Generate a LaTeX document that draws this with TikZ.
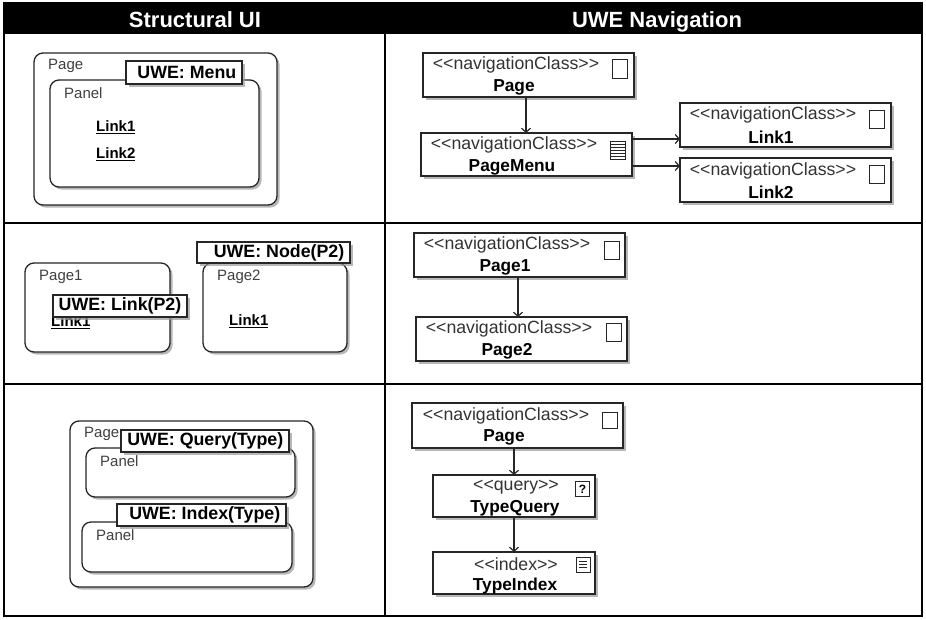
\documentclass[tikz,border=0pt]{standalone}
\usepackage{fontspec}
\setmainfont{Liberation Sans}
\usetikzlibrary{arrows.meta,shadows}
\definecolor{ink}{gray}{0.15}
\newcommand{\nc}{{<}{<}navigationClass{>}{>}}
\tikzset{
  x=1pt,y=-1pt,
  frameline/.style={line width=2.4pt,black},
  rbox/.style={draw=ink,line width=1.3pt,fill=white,rounded corners=9pt,drop shadow={shadow xshift=2.5pt,shadow yshift=-2.5pt,fill=black!40,opacity=.7},inner sep=0pt,outer sep=0pt,anchor=north west},
  tag/.style={draw=ink,line width=1.3pt,fill=white,drop shadow={shadow xshift=2.5pt,shadow yshift=-2.5pt,fill=black!40,opacity=.7},inner sep=0pt,outer sep=0pt,anchor=north west},
  cls/.style={draw=ink,line width=1.3pt,fill=white,drop shadow={shadow xshift=2.5pt,shadow yshift=-2.5pt,fill=black!40,opacity=.7},inner sep=0pt,outer sep=0pt,anchor=north west},
  lab/.style={font=\fontsize{15}{15}\selectfont,text=black!75,inner sep=0pt,anchor=west},
  stereo/.style={font=\fontsize{17.7}{17.7}\selectfont,text=black!80,inner sep=0pt},
  cname/.style={font=\fontsize{17.3}{17.3}\selectfont\bfseries,inner sep=0pt},
  ulink/.style={font=\fontsize{15}{15}\selectfont\bfseries,inner sep=0pt,anchor=west},
  ico/.style={draw=ink,line width=1.2pt,fill=white,inner sep=0pt,anchor=north west},
  conn/.style={draw=ink,line width=1.2pt,-{Straight Barb[length=4pt,width=9pt]}},
  hd/.style={font=\fontsize{22}{22}\selectfont\bfseries,text=white,inner sep=0pt,anchor=base}
}
\newcommand{\rb}[5]{\node[rbox,minimum width=#4-#2,minimum height=#5-#3] (#1) at (#2,#3) {};}
\newcommand{\tg}[6]{\node[tag,minimum width=#4-#2,minimum height=#5-#3] (#1) at (#2,#3) {};\node[font=\fontsize{17.8}{17.8}\selectfont\bfseries,inner sep=0pt,anchor=east] (#1t) at (#4-5.5,{(#3+#5)/2}) {#6};}
\newcommand{\cl}[5]{\node[cls,minimum width=#4-#2,minimum height=#5-#3] (#1) at (#2,#3) {};}
\begin{document}
\begin{tikzpicture}
\useasboundingbox (0,0) rectangle (926,619);
\fill[white] (0,0) rectangle (926,619);
% frame
\fill[black] (4,3) rectangle (922,34);
\coordinate (fa) at (4,3); \coordinate (fb) at (922,616);
\draw[frameline] (fa) rectangle (fb);
\draw[frameline] (4,223) -- (922,223);
\draw[frameline] (4,384) -- (922,384);
\draw[frameline] (385,32) -- (385,616);
\node[hd] (h1) at (195,27) {Structural UI};
\node[hd] (h2) at (657,27) {UWE Navigation};

% row 1 left
\rb{p1}{34}{53}{277}{205}
\node[lab] (p1l) at (48,66) {Page};
\rb{p1p}{50}{80}{259}{187}
\node[lab] (p1pl) at (64,93) {Panel};
\node[ulink] (l1) at (96,127) {\underline{Link1}};
\node[ulink] (l2) at (96,154) {\underline{Link2}};
\tg{t1}{126}{61}{242}{84}{UWE: Menu}

% row 2 left
\rb{p21}{25}{263}{170}{352}
\node[lab] (p21l) at (39,277) {Page1};
\node[ulink] (l3) at (51,322) {\underline{Link1}};
\tg{t2}{53}{295}{187}{317}{UWE: Link(P2)}
\rb{p22}{203}{263}{347}{352}
\node[lab] (p22l) at (217,277) {Page2};
\node[ulink] (l4) at (229,321) {\underline{Link1}};
\tg{t3}{197}{242}{350}{263}{UWE: Node(P2)}

% row 3 left
\rb{p3}{70}{421}{313}{587}
\node[lab] (p3l) at (84,434) {Page};
\rb{p3a}{86}{448}{295}{497}
\node[lab] (p3al) at (100,461) {Panel};
\rb{p3b}{82}{522}{292}{572}
\node[lab] (p3bl) at (96,535) {Panel};
\tg{t4}{121}{430}{289}{452}{UWE: Query(Type)}
\tg{t5}{117}{504}{286}{526}{UWE: Index(Type)}

% row 1 right
\cl{c1}{423}{53}{634}{97}
\node[stereo] (c1s) at (516,65) {\nc};
\node[cname] (c1n) at (514,87) {Page};
\node[ico,minimum width=15pt,minimum height=19pt] (c1i) at (612,59) {};
\cl{c2}{421}{133}{632}{176}
\node[stereo] (c2s) at (514,145) {\nc};
\node[cname] (c2n) at (512,167) {PageMenu};
\node[ico,minimum width=15pt,minimum height=18pt] (c2i) at (610,141) {};
\foreach \yy in {144,147,150,153,156} \draw[ink,line width=.8pt] (610,\yy) -- (625,\yy);
\cl{c3}{680}{103}{891}{147}
\node[stereo] (c3s) at (773,115) {\nc};
\node[cname] (c3n) at (771,137) {Link1};
\node[ico,minimum width=15pt,minimum height=18pt] (c3i) at (869,110) {};
\cl{c4}{680}{158}{891}{202}
\node[stereo] (c4s) at (773,171) {\nc};
\node[cname] (c4n) at (771,192) {Link2};
\node[ico,minimum width=15pt,minimum height=18pt] (c4i) at (869,165) {};
\coordinate (cx) at (526,0);
\coordinate (cy1) at (0,139);
\coordinate (cy2) at (0,166);
\draw[conn] (c1.south -| cx) -- (c2.north -| cx);
\draw[conn] (c2.east |- cy1) -- (c3.west |- cy1);
\draw[conn] (c2.east |- cy2) -- (c4.west |- cy2);

% row 2 right
\cl{d1}{414}{233}{625}{277}
\node[stereo] (d1s) at (507,245) {\nc};
\node[cname] (d1n) at (505,267) {Page1};
\node[ico,minimum width=15pt,minimum height=18pt] (d1i) at (604,241) {};
\cl{d2}{416}{317}{627}{361}
\node[stereo] (d2s) at (509,329) {\nc};
\node[cname] (d2n) at (507,351) {Page2};
\node[ico,minimum width=15pt,minimum height=18pt] (d2i) at (606,323) {};
\coordinate (dx) at (518,0);
\draw[conn] (d1.south -| dx) -- (d2.north -| dx);

% row 3 right
\cl{e1}{412}{403}{623}{448}
\node[stereo] (e1s) at (506,416) {\nc};
\node[cname] (e1n) at (504,437) {Page};
\node[ico,minimum width=15pt,minimum height=16pt] (e1i) at (602,412) {};
\cl{e2}{433}{475}{595}{517}
\node[stereo] (e2s) at (516,487) {{<}{<}query{>}{>}};
\node[cname] (e2n) at (515,508) {TypeQuery};
\node[ico,minimum width=14pt,minimum height=15pt,font=\fontsize{12}{12}\selectfont\bfseries] (e2i) at (575,481) {?};
\cl{e3}{433}{552}{595}{594}
\node[stereo] (e3s) at (516,564) {{<}{<}index{>}{>}};
\node[cname] (e3n) at (515,586) {TypeIndex};
\node[ico,minimum width=14pt,minimum height=15pt] (e3i) at (576,557) {};
\foreach \yy in {561,564,567} \draw[ink,line width=.7pt] (579,\yy) -- (587,\yy);
\coordinate (ex) at (514,0);
\draw[conn] (e1.south -| ex) -- (e2.north -| ex);
\draw[conn] (e2.south -| ex) -- (e3.north -| ex);
\end{tikzpicture}
\end{document}
